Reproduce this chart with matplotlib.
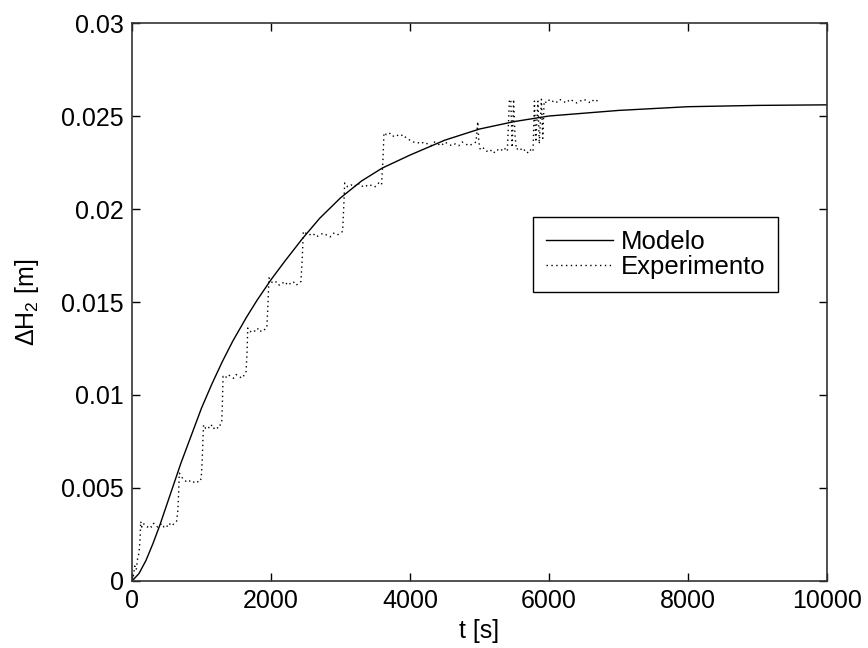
import matplotlib
matplotlib.use("Agg")
import matplotlib.pyplot as plt

plt.rcParams['font.family'] = ['Liberation Sans', 'DejaVu Sans']
plt.rcParams['mathtext.fontset'] = 'custom'
plt.rcParams['mathtext.rm'] = 'Liberation Sans'
plt.rcParams['mathtext.it'] = 'Liberation Sans:italic'

# ---- Model curve ----
t_model = [0, 100, 200, 300, 400, 500, 600, 700, 800, 900, 1000, 1150, 1300, 1450,
           1650, 1800, 2000, 2200, 2450, 2700, 3000, 3300, 3600, 4000, 4500, 5000,
           5500, 6000, 7000, 8000, 9000, 10000]
y_model = [0.0, 0.0004, 0.0011, 0.0020, 0.0030, 0.0041, 0.0052, 0.0063, 0.0073, 0.0083,
           0.0093, 0.0106, 0.0118, 0.0129, 0.0142, 0.0151, 0.0162, 0.0172, 0.0184,
           0.0195, 0.0206, 0.0215, 0.0222, 0.0229, 0.0237, 0.0243, 0.0247, 0.0250,
           0.0253, 0.0255, 0.02557, 0.0256]

t_exp = [0, 20, 40, 60, 80, 100, 115, 125,
         140, 160, 190, 220, 250, 280, 310, 340, 370, 400, 430, 460, 490, 520, 550, 580, 610, 640,
         660, 670, 680,
         700, 730, 760, 800, 840, 880, 920, 960, 995,
         1010, 1020, 1030,
         1060, 1090, 1120, 1150, 1180, 1210, 1240, 1270, 1290,
         1300, 1310,
         1340, 1380, 1420, 1460, 1500, 1540, 1580, 1620, 1640,
         1655, 1665,
         1700, 1740, 1780, 1820, 1860, 1900, 1940,
         1955, 1970,
         2000, 2040, 2080, 2120, 2160, 2200, 2240, 2280, 2320, 2360, 2400, 2430,
         2450, 2465,
         2500, 2550, 2600, 2650, 2700, 2750, 2800, 2850, 2900, 2950, 3000, 3030,
         3045, 3060,
         3100, 3150, 3200, 3250, 3300, 3350, 3400, 3450, 3500, 3550, 3590,
         3610, 3625,
         3660, 3700, 3750, 3800, 3850, 3900, 3950, 4000, 4050,
         4100, 4150, 4200, 4250, 4300, 4350, 4400, 4450, 4500, 4550, 4600, 4650, 4700,
         4750, 4800, 4850, 4900, 4950,
         4975, 4990, 5010,
         5050, 5100, 5150, 5200, 5250, 5300, 5350, 5400,
         5430, 5450, 5470, 5490, 5510, 5530,
         5580, 5620, 5660, 5700, 5740, 5770,
         5790, 5810, 5840, 5860, 5890, 5910, 5930,
         5970, 6010, 6050, 6100, 6150, 6200, 6250, 6300, 6350, 6400, 6450, 6500, 6550,
         6600, 6650, 6700]
y_exp = [0.0, 0.0003, 0.0008, 0.0006, 0.0012, 0.0015, 0.0022, 0.0032,
         0.0029, 0.0031, 0.0030, 0.0029, 0.0030, 0.0029, 0.0031, 0.0030, 0.0029, 0.0030,
         0.0031, 0.0029, 0.0030, 0.0029, 0.0031, 0.0030, 0.0031, 0.0032,
         0.0038, 0.0047, 0.0058,
         0.0057, 0.0055, 0.0054, 0.0053, 0.0054, 0.0053, 0.0054, 0.0053, 0.0055,
         0.0065, 0.0076, 0.0084,
         0.0082, 0.0083, 0.0082, 0.0084, 0.0082, 0.0083, 0.0082, 0.0084, 0.0085,
         0.0095, 0.0110,
         0.0109, 0.0111, 0.0110, 0.0109, 0.0111, 0.0110, 0.0109, 0.0111, 0.0112,
         0.0123, 0.0136,
         0.0134, 0.0135, 0.0134, 0.0136, 0.0134, 0.0135, 0.0136,
         0.0148, 0.0163,
         0.0161, 0.0160, 0.0161, 0.0159, 0.0160, 0.0161, 0.0159, 0.0160, 0.0161, 0.0159,
         0.0160, 0.0161,
         0.0174, 0.0188,
         0.0187, 0.0186, 0.0187, 0.0185, 0.0186, 0.0187, 0.0186, 0.0185, 0.0187, 0.0186,
         0.0187, 0.0188,
         0.0200, 0.0214,
         0.0212, 0.0213, 0.0212, 0.0214, 0.0212, 0.0213, 0.0212, 0.0213, 0.0212, 0.0214,
         0.0213,
         0.0226, 0.0241,
         0.0240, 0.0241, 0.0239, 0.0240, 0.0239, 0.0240, 0.0238, 0.0237, 0.0236,
         0.0236, 0.0235, 0.0236, 0.0235, 0.0234, 0.0236, 0.0235, 0.0234, 0.0236, 0.0235,
         0.0234, 0.0235, 0.0234, 0.0236, 0.0235, 0.0234, 0.0235, 0.0236,
         0.0247, 0.0236, 0.0232,
         0.0233, 0.0231, 0.0232, 0.0230, 0.0232, 0.0231, 0.0233, 0.0231,
         0.0259, 0.0258, 0.0233, 0.0259, 0.0240, 0.0232,
         0.0233, 0.0231, 0.0232, 0.0230, 0.0232, 0.0231,
         0.0258, 0.0236, 0.0258, 0.0235, 0.0259, 0.0238, 0.0258,
         0.0257, 0.0259, 0.0258, 0.0257, 0.0259, 0.0258, 0.0257, 0.0259, 0.0258, 0.0257,
         0.0258, 0.0259, 0.0258, 0.0257, 0.0259, 0.0258]

x_ticks = [0, 2000, 4000, 6000, 8000, 10000]
x_ticklabels = ['0', '2000', '4000', '6000', '8000', '10000']
y_ticks = [0, 0.005, 0.01, 0.015, 0.02, 0.025, 0.03]
y_ticklabels = ['0', '0.005', '0.01', '0.015', '0.02', '0.025', '0.03']

fig = plt.figure(figsize=(8.68, 6.48), dpi=100)
ax = fig.add_axes([0.1521, 0.1034, 0.8007, 0.8611])

ax.plot(t_model, y_model, color='black', lw=1.0, label='Modelo')
ax.plot(t_exp, y_exp, color='black', lw=1.0, linestyle=(0, (1, 2.5)), label='Experimento')

ax.set_xlim(0, 10000)
ax.set_ylim(0, 0.03)
ax.set_xticks(x_ticks)
ax.set_xticklabels(x_ticklabels)
ax.set_yticks(y_ticks)
ax.set_yticklabels(y_ticklabels)
ax.tick_params(direction='in', length=6, width=1.0, labelsize=18, top=True, right=True,
               colors='black', pad=6)
for s in ax.spines.values():
    s.set_linewidth(1.2)
    s.set_color('#333333')

ax.set_xlabel('t [s]', fontsize=18, labelpad=4)
ax.set_ylabel(r'$\Delta$H$_2$ [m]', fontsize=18, labelpad=14)

leg = ax.legend(loc='upper left', bbox_to_anchor=(0.577, 0.652), fontsize=18.5,
                frameon=True, fancybox=False, edgecolor='black', framealpha=1,
                handlelength=2.6, handletextpad=0.3, borderpad=0.5, labelspacing=0.05,
                borderaxespad=0)
leg.get_frame().set_linewidth(1.0)

fig.savefig('out.png', dpi=100)
